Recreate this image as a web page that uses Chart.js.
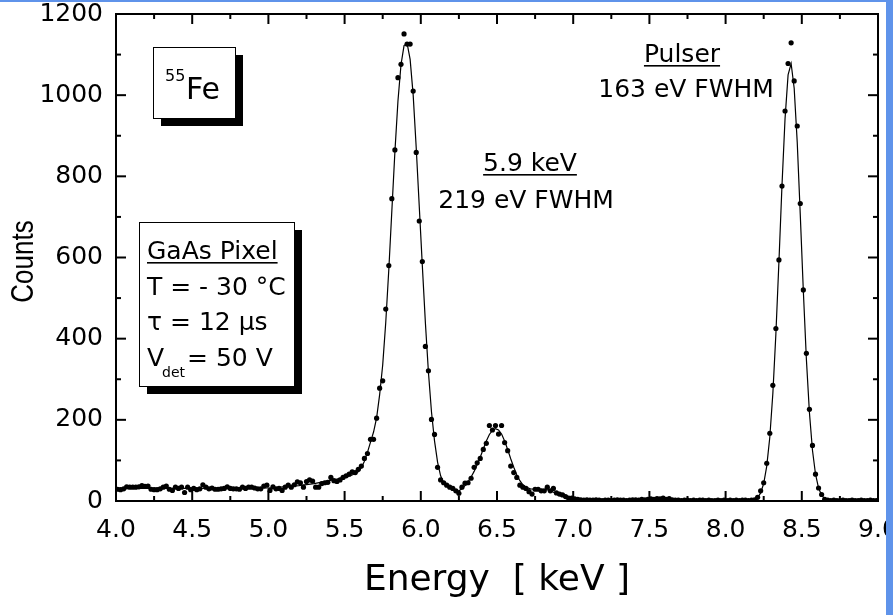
<!DOCTYPE html>
<html>
<head>
<meta charset="utf-8">
<script src="https://cdn.jsdelivr.net/npm/chart.js@4.4.1/dist/chart.umd.min.js"></script>
<style>
  html, body { margin: 0; padding: 0; background: #fff; }
  canvas { display: block; }
</style>
</head>
<body>
<canvas id="grafico" width="893" height="615"></canvas>
<script>
// channel calibration: bin centres from 4.01 keV, 20 eV wide
const energiaInicio = 4.01;
const anchoCanal = 0.02;

const cuentas = [
  29, 28, 30, 35, 34, 34, 34, 35, 38, 36,       // 4.01 - 4.19
  37, 29, 28, 28, 30, 34, 37, 29, 26, 34,       // 4.21 - 4.39
  31, 34, 21, 34, 28, 31, 28, 30, 40, 34,       // 4.41 - 4.59
  30, 32, 29, 29, 30, 31, 35, 31, 30, 30,       // 4.61 - 4.79
  29, 34, 31, 34, 34, 32, 30, 30, 37, 39,       // 4.81 - 4.99
  26, 35, 30, 31, 26, 34, 39, 34, 40, 47,       // 5.01 - 5.19
  45, 34, 48, 52, 49, 34, 34, 43, 45, 46,       // 5.21 - 5.39
  58, 50, 48, 52, 58, 62, 66, 72, 70, 78,       // 5.41 - 5.59
  86, 105, 117, 152, 152, 204, 278, 296, 473, 580,      // 5.61 - 5.79
  745, 865, 1043, 1076, 1151, 1126, 1126, 1010, 859, 690, // 5.81 - 5.99
  590, 381, 321, 201, 164, 83, 52, 45, 39, 34,  // 6.01 - 6.19
  31, 25, 19, 34, 44, 45, 56, 83, 94, 105,      // 6.21 - 6.39
  127, 142, 186, 175, 186, 165, 186, 144, 124, 86,      // 6.41 - 6.59
  70, 58, 39, 34, 31, 23, 17, 29, 29, 25,       // 6.61 - 6.79
  25, 34, 25, 31, 20, 17, 15, 11, 7, 7,         // 6.81 - 6.99
  5, 4, 3, 2, 3, 2, 2, 3, 2, 1,                 // 7.01 - 7.19
  2, 2, 1, 2, 3, 2, 2, 1, 2, 3,                 // 7.21 - 7.39
  3, 2, 4, 3, 4, 5, 4, 6, 5, 7,                 // 7.41 - 7.59
  4, 6, 3, 2, 2, 1, 2, 2, 1, 2,                 // 7.61 - 7.79
  1, 2, 2, 1, 2, 1, 1, 2, 1, 2,                 // 7.81 - 7.99
  1, 2, 1, 2, 1, 2, 2, 1, 2, 3,                 // 8.01 - 8.19
  9, 25, 45, 93, 167, 285, 425, 594, 776, 961,  // 8.21 - 8.39
  1078, 1129, 1035, 924, 733, 520, 364, 226, 137, 66,   // 8.41 - 8.59
  32, 16, 4, 2, 1, 2, 1, 1, 2, 1,               // 8.61 - 8.79
  1, 2, 1, 1, 2, 1, 1, 2, 1, 1                  // 8.81 - 8.99
];

// fitted curve (solid line), knots
const ajusteEnergia = [
  4.00, 4.50, 5.00, 5.20, 5.30, 5.40, 5.45, 5.50, 5.55, 5.59,
  5.61, 5.63, 5.65, 5.67, 5.69, 5.71, 5.73, 5.75, 5.77, 5.79,
  5.81, 5.83, 5.85, 5.87, 5.89, 5.91, 5.93, 5.95, 5.97, 5.99,
  6.01, 6.03, 6.05, 6.07, 6.09, 6.11, 6.13, 6.15, 6.17, 6.19,
  6.21, 6.23, 6.25, 6.27, 6.29, 6.31, 6.33, 6.35, 6.37, 6.39,
  6.41, 6.43, 6.45, 6.47, 6.49, 6.51, 6.53, 6.55, 6.57, 6.59,
  6.61, 6.63, 6.65, 6.67, 6.69, 6.72, 6.76, 6.80, 6.84, 6.88,
  6.92, 6.96, 7.00, 7.05, 7.10, 7.30, 7.50, 7.60, 7.70, 8.00,
  8.17, 8.21, 8.23, 8.25, 8.27, 8.29, 8.31, 8.33, 8.35, 8.37,
  8.39, 8.41, 8.43, 8.45, 8.47, 8.49, 8.51, 8.53, 8.55, 8.57,
  8.59, 8.61, 8.63, 8.65, 8.69, 8.75, 9.00
];
const ajusteCuentas = [
  31, 31, 32, 38, 43, 50, 54, 58, 64, 72,
  82, 98, 120, 145, 170, 205, 262, 335, 440, 570,
  715, 860, 985, 1075, 1122, 1128, 1088, 1000, 870, 725,
  580, 440, 318, 220, 148, 96, 62, 45, 38, 33,
  29, 26, 25, 30, 38, 47, 59, 73, 90, 108,
  128, 148, 164, 174, 178, 175, 165, 148, 127, 104,
  83, 64, 50, 40, 34, 30, 29, 29, 27, 20,
  13, 8, 5, 3, 2, 2, 3, 4, 2, 1,
  2, 8, 20, 43, 86, 157, 265, 412, 590, 778,
  942, 1050, 1078, 1017, 884, 705, 518, 350, 218, 125,
  66, 32, 14, 6, 2, 1, 1
];

const ticksX = [4.0, 4.5, 5.0, 5.5, 6.0, 6.5, 7.0, 7.5, 8.0, 8.5, 9.0];
const ticksXMenores = [4.25, 4.75, 5.25, 5.75, 6.25, 6.75, 7.25, 7.75, 8.25, 8.75];
const ticksY = [0, 200, 400, 600, 800, 1000, 1200];
const ticksYMenores = [100, 300, 500, 700, 900, 1100];

const FUENTE = "'DejaVu Sans', sans-serif";
const FUENTE_ARIAL = "'Liberation Sans', Arial, sans-serif";
Chart.defaults.font.family = FUENTE;
Chart.defaults.color = '#000';

const puntos = cuentas.map((c, i) => ({ x: +(energiaInicio + i * anchoCanal).toFixed(2), y: c }));
const curva = ajusteEnergia.map((e, i) => ({ x: e, y: ajusteCuentas[i] }));

function linea(c, x1, y1, x2, y2) {
  c.beginPath();
  c.moveTo(x1, y1);
  c.lineTo(x2, y2);
  c.stroke();
}

function cajaConSombra(c, x, y, w, h) {
  c.fillStyle = '#000';
  c.fillRect(x + 8, y + 8, w, h);
  c.fillStyle = '#fff';
  c.fillRect(x, y, w, h);
  c.lineWidth = 1;
  c.strokeStyle = '#000';
  c.strokeRect(x + 0.5, y + 0.5, w, h);
}

function textoSubrayado(c, texto, x, y) {
  c.fillText(texto, x, y);
  const w = c.measureText(texto).width;
  let x0 = x;
  if (c.textAlign === 'center') x0 = x - w / 2;
  c.fillRect(x0, y + 3, w, 1.6);
}

const marco = {
  id: 'marco',
  afterDraw(chart) {
    const c = chart.ctx;
    const a = chart.chartArea;
    const sx = chart.scales.x;
    const sy = chart.scales.y;
    c.save();

    // frame + inward ticks on all four sides
    c.strokeStyle = '#000';
    c.lineWidth = 2;
    c.strokeRect(a.left, a.top, a.right - a.left, a.bottom - a.top);
    ticksX.forEach(v => {
      const px = sx.getPixelForValue(v);
      linea(c, px, a.bottom, px, a.bottom - 10);
      linea(c, px, a.top, px, a.top + 10);
    });
    ticksXMenores.forEach(v => {
      const px = sx.getPixelForValue(v);
      linea(c, px, a.bottom, px, a.bottom - 5);
      linea(c, px, a.top, px, a.top + 5);
    });
    ticksY.forEach(v => {
      const py = sy.getPixelForValue(v);
      linea(c, a.left, py, a.left + 10, py);
      linea(c, a.right, py, a.right - 10, py);
    });
    ticksYMenores.forEach(v => {
      const py = sy.getPixelForValue(v);
      linea(c, a.left, py, a.left + 5, py);
      linea(c, a.right, py, a.right - 5, py);
    });

    // y axis title, slightly widened like the original
    c.save();
    c.fillStyle = '#000';
    c.translate(25, (a.top + a.bottom) / 2 + 4);
    c.rotate(-Math.PI / 2);
    c.scale(1, 1.18);
    c.textAlign = 'center';
    c.textBaseline = 'middle';
    c.font = '26px ' + FUENTE_ARIAL;
    c.fillText('Counts', 0, 0);
    c.restore();

    // 55Fe box
    cajaConSombra(c, 153, 47, 82, 71);
    c.fillStyle = '#000';
    c.textBaseline = 'alphabetic';
    c.textAlign = 'left';
    c.font = '16px ' + FUENTE;
    c.fillText('55', 165, 81);
    c.font = '30px ' + FUENTE;
    c.fillText('Fe', 186, 99);

    // detector box
    cajaConSombra(c, 139, 222, 155, 164);
    c.fillStyle = '#000';
    c.font = '25px ' + FUENTE;
    textoSubrayado(c, 'GaAs Pixel', 147, 259);
    c.fillText('T = - 30 °C', 147, 295);
    c.fillText('τ = 12 μs', 147, 330);
    c.fillText('V', 147, 366);
    c.font = '14px ' + FUENTE;
    c.fillText('det', 162, 377);
    c.font = '25px ' + FUENTE;
    c.fillText('= 50 V', 187, 366);

    // peak labels
    c.textAlign = 'center';
    textoSubrayado(c, '5.9 keV', 530, 171);
    c.fillText('219 eV FWHM', 526, 208);
    textoSubrayado(c, 'Pulser', 682, 62);
    c.fillText('163 eV FWHM', 686, 97);

    // slide border
    c.fillStyle = '#5f93ea';
    c.fillRect(0, 0, 893, 2);
    c.fillRect(886, 0, 7, 615);
    c.restore();
  }
};

const ctx = document.getElementById('grafico').getContext('2d');
new Chart(ctx, {
  type: 'scatter',
  data: {
    datasets: [
      {
        data: puntos,
        showLine: false,
        pointRadius: 2.6,
        pointBackgroundColor: '#000',
        pointBorderWidth: 0,
        order: 0
      },
      {
        data: curva,
        showLine: true,
        borderColor: '#000',
        borderWidth: 1.2,
        pointRadius: 0,
        tension: 0,
        order: 1
      }
    ]
  },
  options: {
    responsive: false,
    animation: false,
    layout: { padding: { left: 0, top: 14, right: 15, bottom: 0 } },
    plugins: {
      legend: { display: false },
      tooltip: { enabled: false }
    },
    scales: {
      x: {
        type: 'linear',
        min: 4,
        max: 9,
        grid: { display: false, drawTicks: false },
        border: { display: false },
        afterBuildTicks: s => { s.ticks = ticksX.map(v => ({ value: v })); },
        afterFit: s => { s.height = 114; s.paddingLeft = 0; s.paddingRight = 0; },
        ticks: {
          color: '#000',
          font: { size: 25 },
          padding: 14,
          maxRotation: 0,
          autoSkip: false,
          callback: v => v.toFixed(1)
        },
        title: {
          display: true,
          text: 'Energy  [ keV ]',
          color: '#000',
          font: { size: 36 },
          padding: { top: 0, bottom: 13 }
        }
      },
      y: {
        type: 'linear',
        min: 0,
        max: 1200,
        grid: { display: false, drawTicks: false },
        border: { display: false },
        afterBuildTicks: s => { s.ticks = ticksY.map(v => ({ value: v })); },
        afterFit: s => { s.width = 116; s.paddingTop = 0; s.paddingBottom = 0; },
        ticks: {
          color: '#000',
          font: { size: 25 },
          padding: 13,
          callback: v => String(v)
        },
        title: { display: false }
      }
    }
  },
  plugins: [marco]
});
</script>
</body>
</html>
